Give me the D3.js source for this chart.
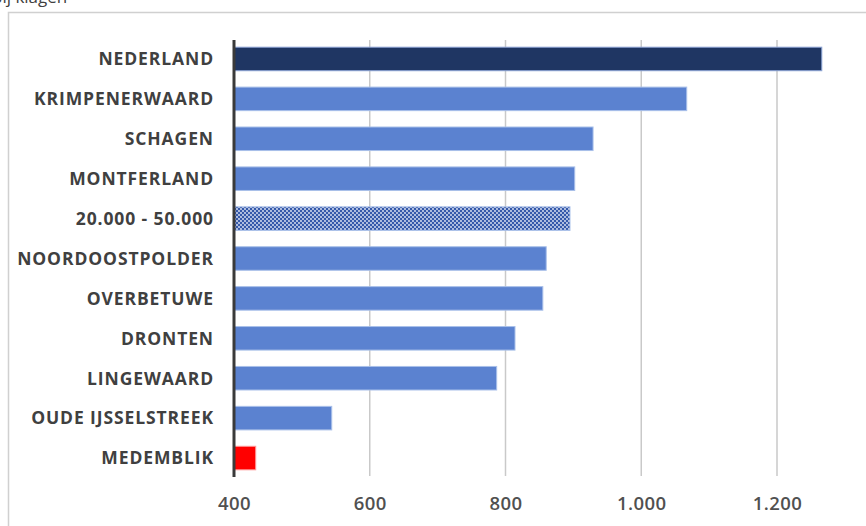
<!DOCTYPE html>
<html>
<head>
<meta charset="utf-8">
<script src="https://cdn.jsdelivr.net/npm/d3@7"></script>
<style>
  body { margin: 0; background: #fff; }
  svg { display: block; }
</style>
</head>
<body>
<div id="main"></div>
<script>
var categories = ["NEDERLAND", "KRIMPENERWAARD", "SCHAGEN", "MONTFERLAND", "20.000 - 50.000",
    "NOORDOOSTPOLDER", "OVERBETUWE", "DRONTEN", "LINGEWAARD", "OUDE IJSSELSTREEK", "MEDEMBLIK"];
var values = [1266, 1067, 929, 902, 895, 860, 855, 814, 787, 544, 432];
var barKinds = ["land", "gem", "gem", "gem", "klasse", "gem", "gem", "gem", "gem", "gem", "focus"];
var tickValues = [400, 600, 800, 1000, 1200];

var width = 866, height = 526;

var svg = d3.select('#main')
    .append('svg')
    .attr("width", width)
    .attr("height", height);

// dotted fill for the size-class bar
var defs = svg.append("defs");
var pat = defs.append("pattern")
    .attr("id", "dots")
    .attr("patternUnits", "userSpaceOnUse")
    .attr("width", 4)
    .attr("height", 4);
pat.append("rect").attr("width", 4).attr("height", 4).attr("fill", "#3559aa");
pat.append("circle").attr("cx", 1).attr("cy", 1).attr("r", 0.9).attr("fill", "#e6ecf8");
pat.append("circle").attr("cx", 3).attr("cy", 3).attr("r", 0.9).attr("fill", "#e6ecf8");

// text cut off at the top edge, and the chart frame
svg.append("text")
    .attr("x", -8)
    .attr("y", 3)
    .attr("fill", "#404040")
    .style("font-family", "'Open Sans', sans-serif")
    .style("font-size", "17px")
    .text("bij klagen");

svg.append("path")
    .attr("d", "M8.5," + (height + 5) + "V12.5H" + (width + 5))
    .attr("fill", "none")
    .attr("stroke", "#d0d0d0")
    .attr("stroke-width", 1.5);

var x = d3.scaleLinear()
    .domain([400, 1200])
    .range([234, 777]);

var y = d3.scaleBand()
    .domain(categories)
    .range([39, 478])
    .paddingInner(0.41)
    .paddingOuter(0.205);

// gridlines
svg.selectAll(".grid")
    .data(tickValues.slice(1))
    .enter().append("line")
    .attr("class", "grid")
    .attr("x1", function(d) { return x(d); })
    .attr("x2", function(d) { return x(d); })
    .attr("y1", 40)
    .attr("y2", 476)
    .attr("stroke", "#c9c9c9")
    .attr("stroke-width", 1.5);

var fills = { land: "#1f3663", gem: "#5b82d0", klasse: "url(#dots)", focus: "#ff0000" };
var strokes = { land: "#8ea5d6", gem: "#a9c0ea", klasse: "#a9c0ea", focus: "#ff9a9a" };

svg.selectAll(".bar")
    .data(categories)
    .enter().append("rect")
    .attr("class", "bar")
    .attr("x", x(400))
    .attr("y", function(d) { return y(d); })
    .attr("width", function(d, i) { return x(values[i]) - x(400); })
    .attr("height", y.bandwidth())
    .attr("fill", function(d, i) { return fills[barKinds[i]]; })
    .attr("stroke", function(d, i) { return strokes[barKinds[i]]; })
    .attr("stroke-width", 1);

// category labels
svg.selectAll(".cat")
    .data(categories)
    .enter().append("text")
    .attr("class", "cat")
    .attr("x", 214)
    .attr("y", function(d) { return y(d) + y.bandwidth() / 2; })
    .attr("dy", "0.36em")
    .attr("text-anchor", "end")
    .attr("fill", "#404040")
    .style("font-family", "'Open Sans', sans-serif")
    .style("font-weight", "700")
    .style("font-size", "17.5px")
    .style("letter-spacing", "0.9px")
    .text(function(d) { return d; });

// value axis line
svg.append("line")
    .attr("x1", x(400))
    .attr("x2", x(400))
    .attr("y1", 40)
    .attr("y2", 477)
    .attr("stroke", "#3a3a3a")
    .attr("stroke-width", 3);

// tick labels
var fmt = d3.formatLocale({ decimal: ",", thousands: ".", grouping: [3], currency: ["€", ""] }).format(",");
var axis = d3.axisBottom(x)
    .tickValues(tickValues)
    .tickSize(0)
    .tickPadding(0)
    .tickFormat(fmt);

var gAxis = svg.append("g")
    .attr("transform", "translate(0,497)")
    .call(axis);
gAxis.select(".domain").remove();
gAxis.selectAll("text")
    .attr("fill", "#505050")
    .style("font-family", "'Open Sans', sans-serif")
    .style("font-weight", "600")
    .style("font-size", "18.5px")
    .style("letter-spacing", "0.4px");
</script>
</body>
</html>
